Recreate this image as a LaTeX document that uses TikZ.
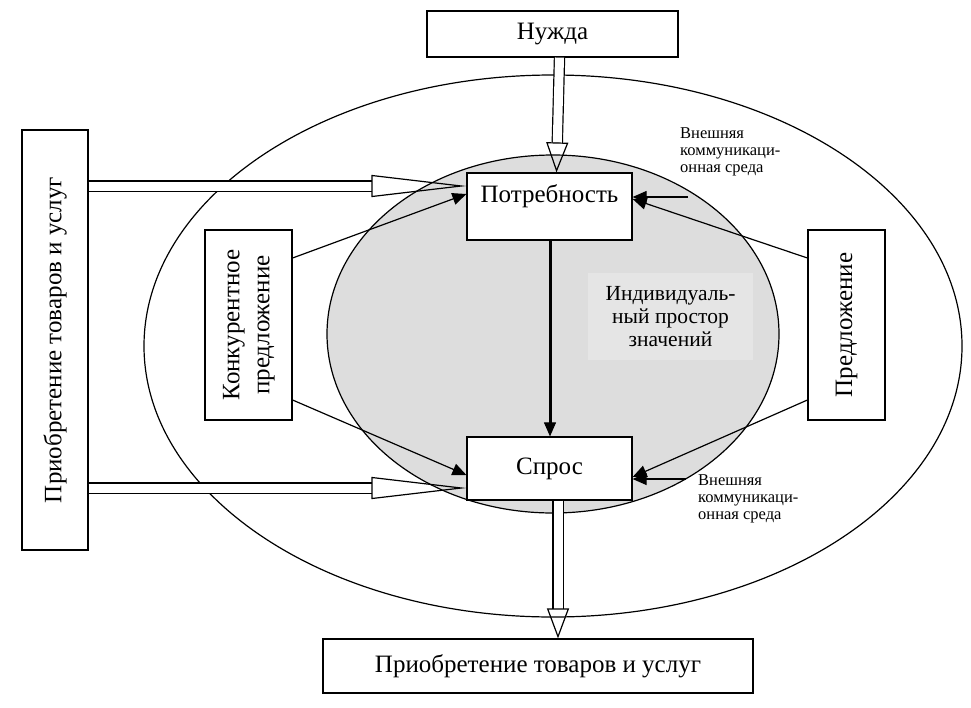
\documentclass[tikz,border=0pt]{standalone}
\usepackage{fontspec}
\setmainfont{Liberation Serif}
\usetikzlibrary{arrows.meta}
\tikzstyle{box}=[draw, fill=white, line width=1.2pt, inner sep=0pt, font=\fontsize{25}{29}\selectfont]
\tikzstyle{small}=[align=left, inner sep=0pt, font=\fontsize{16.5}{17}\selectfont]
\tikzstyle{link}=[line width=1.2pt, -{Triangle[length=14pt, width=12pt]}]
\tikzstyle{hollow}=[line width=1.2pt, double, double distance=9pt, -{Triangle[open, length=30pt, width=22pt, line width=1.2pt]}]
\tikzstyle{long hollow}=[line width=1.2pt, double, double distance=9pt, -{Triangle[open, length=95pt, width=22pt, line width=1.2pt]}]
\definecolor{space}{RGB}{221,221,221}
\definecolor{spacetext}{RGB}{229,229,229}

\begin{document}
\begin{tikzpicture}[x=1pt, y=-1pt]
      \useasboundingbox (0,0) rectangle (971,707);
      % среда
      \draw[line width=1.2pt] (553,346) ellipse [x radius=409pt, y radius=271pt];
      \draw[line width=1.2pt, fill=space] (553,334) ellipse [x radius=226pt, y radius=179pt];
      \node[fill=spacetext, minimum width=165pt, minimum height=87pt, align=center,
            font=\fontsize{21.5}{23}\selectfont] (space) at (670.5,316.5)
            {Индивидуаль-\\ный простор\\значений};
      % блоки
      \node[box, minimum width=251pt, minimum height=46pt] (need) at (552.5,34) {Нужда};
      \node[box, minimum width=165pt, minimum height=67pt, text height=15pt, text depth=24pt] (want) at (549.5,206.5) {Потребность};
      \node[box, minimum width=165pt, minimum height=63pt] (demand) at (549.5,468.5) {Спрос};
      \node[box, minimum width=430pt, minimum height=54pt] (buy) at (538,666) {Приобретение товаров и услуг};
      \node[box, minimum width=66pt, minimum height=420pt] (buyside) at (55,340)
            {\rotatebox{90}{Приобретение товаров и услуг}};
      \node[box, minimum width=87pt, minimum height=190pt] (rival) at (248.5,325)
            {\rotatebox{90}{\begin{tabular}{@{}c@{}}Конкурентное\\[1pt]предложение\end{tabular}}};
      \node[box, minimum width=77pt, minimum height=190pt] (offer) at (846.5,325)
            {\rotatebox{90}{Предложение}};
      \node[small, anchor=north west] (env1) at (680,127) {Внешняя\\коммуникаци-\\онная среда};
      \node[small, anchor=north west] (env2) at (698,474) {Внешняя\\коммуникаци-\\онная среда};
      \coordinate (env1 in) at (688,197);
      \coordinate (env2 in) at (686,479);
      % связи
      \draw[hollow] ([xshift=7pt]need.south) to ([xshift=7pt]want.north);
      \draw[hollow] ([xshift=8.5pt]demand.south) to ([xshift=20pt]buy.north);
      \draw[long hollow] (buyside.east |- 0,186) to (want.west |- 0,186);
      \draw[long hollow] (buyside.east |- 0,488) to (demand.west |- 0,488);
      \draw[link, line width=3pt, -{Triangle[length=14pt, width=12pt, line width=1pt]}] (want.south -| 550,0) to (demand.north -| 550,0);
      \draw[link] (rival.east |- 0,258) to (want.west |- 0,194);
      \draw[link] (rival.east |- 0,400) to (demand.west |- 0,475);
      \draw[link] (offer.west |- 0,258) to (want.east |- 0,199);
      \draw[link] (offer.west |- 0,400) to (demand.east |- 0,477);
      \draw[link] (env1 in) to (want.east |- env1 in);
      \draw[link] (env2 in) to (demand.east |- env2 in);
    \end{tikzpicture}
\end{document}
